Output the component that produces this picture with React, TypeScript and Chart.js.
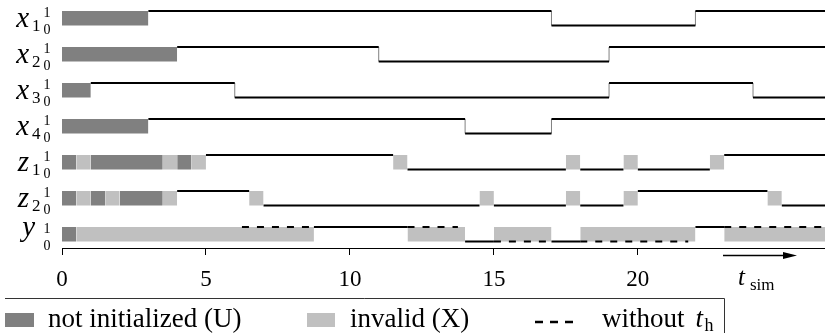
import React, { useEffect, useRef, useState } from 'react';
import { Chart, registerables } from 'chart.js';

Chart.register(...registerables);

type Seg = [number, number, number | 'U' | 'X'];

// ---------- data ----------
const X_MAX = 26.5;
const xTicks = [0, 5, 10, 15, 20];
const signalNames = ['x1', 'x2', 'x3', 'x4', 'z1', 'z2', 'y'];

const x1Wave: Seg[] = [[0, 3, 'U'], [3, 17, 1], [17, 22, 0], [22, 26.5, 1]];
const x2Wave: Seg[] = [[0, 4, 'U'], [4, 11, 1], [11, 19, 0], [19, 26.5, 1]];
const x3Wave: Seg[] = [[0, 1, 'U'], [1, 6, 1], [6, 19, 0], [19, 24, 1], [24, 26.5, 0]];
const x4Wave: Seg[] = [[0, 3, 'U'], [3, 14, 1], [14, 17, 0], [17, 26.5, 1]];
const z1Wave: Seg[] = [
  [0, 0.5, 'U'], [0.5, 1, 'X'], [1, 3.5, 'U'], [3.5, 4, 'X'], [4, 4.5, 'U'], [4.5, 5, 'X'],
  [5, 11.5, 1], [11.5, 12, 'X'], [12, 17.5, 0], [17.5, 18, 'X'], [18, 19.5, 0], [19.5, 20, 'X'],
  [20, 22.5, 0], [22.5, 23, 'X'], [23, 26.5, 1],
];
const z2Wave: Seg[] = [
  [0, 0.5, 'U'], [0.5, 1, 'X'], [1, 1.5, 'U'], [1.5, 2, 'X'], [2, 3.5, 'U'], [3.5, 4, 'X'],
  [4, 6.5, 1], [6.5, 7, 'X'], [7, 14.5, 0], [14.5, 15, 'X'], [15, 17.5, 0], [17.5, 18, 'X'],
  [18, 19.5, 0], [19.5, 20, 'X'], [20, 24.5, 1], [24.5, 25, 'X'], [25, 26.5, 0],
];
const yWave: Seg[] = [
  [0, 0.5, 'U'], [0.5, 8.75, 'X'], [8.75, 12, 1], [12, 14, 'X'], [14, 15, 0], [15, 17, 'X'],
  [17, 18, 0], [18, 22, 'X'], [22, 23, 1], [23, 26.5, 'X'],
];
const yWithoutTh: [number, number, number][] = [
  [6.25, 8.75, 1], [12, 13.75, 1], [15, 17, 0], [18, 21.75, 0], [23, 26.5, 1],
];
const waves = [x1Wave, x2Wave, x3Wave, x4Wave, z1Wave, z2Wave, yWave];
const legendLabels = ['not initialized (U)', 'invalid (X)', 'without'];

// ---------- style / layout ----------
const SERIF = "'Liberation Serif', 'Times New Roman', serif";
const U_COLOR = 'rgb(128,128,128)';
const X_COLOR = 'rgb(192,192,192)';
const W = 825;
const H = 333;
const LEVEL_PX = 14.5;
const ROW_PX = 36;
const TOP_PX = 11;
const AXIS_Y = 248;
const ROW_GAP = ROW_PX / LEVEL_PX;
const Y_MAX = 1 + TOP_PX / LEVEL_PX;
const Y_MIN = Y_MAX - AXIS_Y / LEVEL_PX;

function buildDatasets() {
  const ds: any[] = [];
  waves.forEach((wave, k) => {
    const base = -k * ROW_GAP;
    const hLine: any[] = [];
    const vLine: any[] = [];
    wave.forEach((seg, i) => {
      const [a, b, v] = seg;
      if (v === 'U' || v === 'X') {
        ds.push({
          data: [{ x: a, y: base + 1 }, { x: b, y: base + 1 }],
          fill: { value: base },
          backgroundColor: v === 'U' ? U_COLOR : X_COLOR,
          borderColor: 'rgba(0,0,0,0)',
          borderWidth: 0,
          pointRadius: 0,
          order: 10,
        });
      } else {
        hLine.push({ x: a, y: base + v }, { x: b, y: base + v }, { x: b, y: null });
        const next = wave[i + 1];
        if (next && typeof next[2] === 'number' && next[2] !== v) {
          vLine.push({ x: b, y: base }, { x: b, y: base + 1 }, { x: b, y: null });
        }
      }
    });
    ds.push({ data: vLine, borderColor: '#808080', borderWidth: 1, pointRadius: 0, fill: false, order: 5 });
    ds.push({ data: hLine, borderColor: '#000', borderWidth: 2, pointRadius: 0, fill: false, order: 1 });
  });
  const base = -6 * ROW_GAP;
  const dash: any[] = [];
  yWithoutTh.forEach(([a, b, v]) => dash.push({ x: a, y: base + v }, { x: b, y: base + v }, { x: b, y: null }));
  ds.push({ data: dash, borderColor: '#000', borderWidth: 2, borderDash: [7, 8], pointRadius: 0, fill: false, order: 0 });
  return ds;
}

const decorPlugin = {
  id: 'decor',
  afterDraw(chart: any) {
    const ctx: CanvasRenderingContext2D = chart.ctx;
    const yS = chart.scales.y;
    ctx.save();
    ctx.fillStyle = '#000';
    signalNames.forEach((name, k) => {
      const base = -k * ROW_GAP;
      const hiPx = yS.getPixelForValue(base + 1);
      const loPx = yS.getPixelForValue(base);
      ctx.font = `14px ${SERIF}`;
      ctx.textAlign = 'center';
      ctx.textBaseline = 'alphabetic';
      ctx.fillText('1', 47, hiPx + 6);
      ctx.fillText('0', 47, loPx + 8);
      const letter = name[0];
      const sub = name.slice(1);
      ctx.font = `italic 29px ${SERIF}`;
      ctx.textAlign = 'right';
      if (sub) {
        ctx.fillText(letter, 29, loPx + 1);
        ctx.font = `17px ${SERIF}`;
        ctx.textAlign = 'left';
        ctx.fillText(sub, 32, loPx + 5);
      } else {
        ctx.fillText(letter, 35, loPx - 6);
      }
    });

    // time arrow
    ctx.strokeStyle = '#000';
    ctx.lineWidth = 1.3;
    ctx.beginPath();
    ctx.moveTo(723, 255.5);
    ctx.lineTo(787, 255.5);
    ctx.stroke();
    ctx.beginPath();
    ctx.moveTo(797, 255.5);
    ctx.lineTo(783, 252);
    ctx.lineTo(783, 259);
    ctx.closePath();
    ctx.fill();
    ctx.textAlign = 'left';
    ctx.font = `italic 25px ${SERIF}`;
    ctx.fillText('t', 738, 285);
    ctx.font = `17px ${SERIF}`;
    ctx.fillText('sim', 750, 290);

    // legend
    ctx.lineWidth = 1;
    ctx.strokeStyle = '#333';
    ctx.beginPath();
    ctx.moveTo(5, 298.5);
    ctx.lineTo(724.5, 298.5);
    ctx.lineTo(724.5, H);
    ctx.stroke();
    ctx.fillStyle = U_COLOR;
    ctx.fillRect(5, 313, 29, 14);
    ctx.fillStyle = X_COLOR;
    ctx.fillRect(307, 313, 28, 14);
    ctx.fillStyle = '#000';
    ctx.font = `27px ${SERIF}`;
    ctx.fillText(legendLabels[0], 48, 327);
    ctx.fillText(legendLabels[1], 350, 327);
    ctx.fillText(legendLabels[2], 602, 327);
    const wW = ctx.measureText(legendLabels[2]).width;
    ctx.font = `italic 27px ${SERIF}`;
    ctx.fillText('t', 602 + wW + 11, 327);
    ctx.font = `18px ${SERIF}`;
    ctx.fillText('h', 602 + wW + 20, 331);
    ctx.strokeStyle = '#000';
    ctx.lineWidth = 2.5;
    ctx.setLineDash([8, 7]);
    ctx.beginPath();
    ctx.moveTo(535, 322);
    ctx.lineTo(573, 322);
    ctx.stroke();
    ctx.setLineDash([]);
    ctx.restore();
  },
};

export default function App() {
  const canvasRef = useRef<HTMLCanvasElement | null>(null);
  const [fontsReady, setFontsReady] = useState(false);

  useEffect(() => {
    const fonts: any = (document as any).fonts;
    let done = false;
    const finish = () => {
      if (!done) {
        done = true;
        setFontsReady(true);
      }
    };
    if (fonts && fonts.load) {
      Promise.all([
        fonts.load(`27px 'Liberation Serif'`, 'not initialized 0123456789'),
        fonts.load(`italic 27px 'Liberation Serif'`, 'xyzt'),
      ])
        .then(() => (fonts.ready ? fonts.ready : null))
        .then(finish, finish);
    } else finish();
    const t = setTimeout(finish, 1200);
    return () => clearTimeout(t);
  }, []);

  useEffect(() => {
    if (!canvasRef.current) return;
    const chart = new Chart(canvasRef.current, {
      type: 'line',
      data: { datasets: buildDatasets() },
      options: {
        animation: false,
        responsive: false,
        events: [],
        layout: { padding: { left: 62, right: 0, top: 0, bottom: 0 } },
        plugins: { legend: { display: false }, tooltip: { enabled: false } },
        elements: { line: { tension: 0 } },
        scales: {
          x: {
            type: 'linear',
            min: 0,
            max: X_MAX,
            afterBuildTicks: (s: any) => {
              s.ticks = xTicks.map((v) => ({ value: v }));
            },
            afterFit: (s: any) => {
              s.height = H - AXIS_Y;
            },
            grid: { display: true, drawOnChartArea: false, drawTicks: true, tickLength: 7, color: '#000', lineWidth: 1 },
            border: { display: true, color: '#000', width: 1 },
            ticks: { color: '#000', font: { family: SERIF, size: 23 }, padding: 11, autoSkip: false, maxRotation: 0 },
          },
          y: { type: 'linear', display: false, min: Y_MIN, max: Y_MAX },
        },
      } as any,
      plugins: [decorPlugin],
    });
    return () => chart.destroy();
  }, [fontsReady]);

  return (
    <div style={{ position: 'absolute', left: 0, top: 0, width: W, height: H, background: '#fff', overflow: 'hidden' }}>
      <div
        aria-hidden="true"
        style={{ position: 'absolute', left: 0, top: 0, fontFamily: "'Liberation Serif'", fontSize: 27, color: 'rgba(255,255,255,0)', whiteSpace: 'nowrap', pointerEvents: 'none' }}
      >
        not initialized 0123456789 <i>xyzt</i>
      </div>
      <canvas
        key={fontsReady ? 'ready' : 'init'}
        ref={canvasRef}
        width={W}
        height={H}
        style={{ position: 'relative', width: W, height: H, display: 'block' }}
      />
    </div>
  );
}
